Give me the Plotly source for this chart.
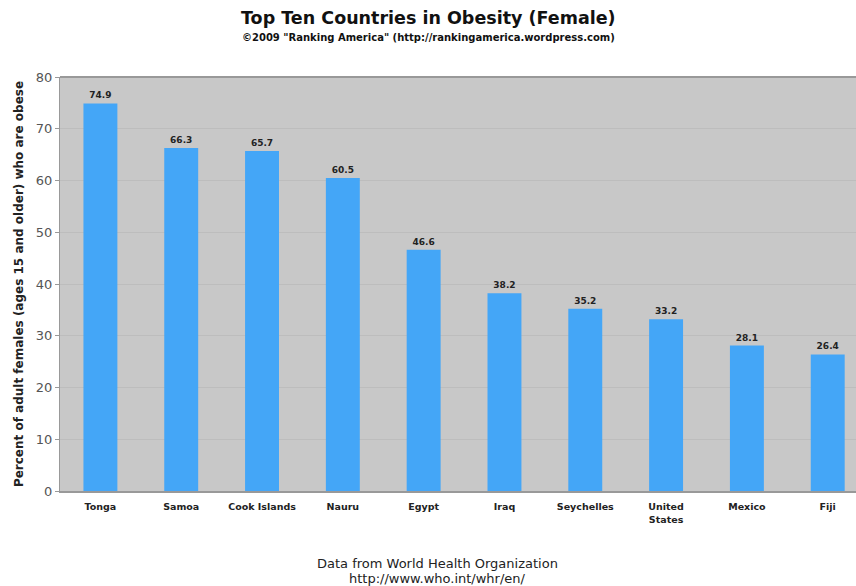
import plotly.graph_objects as go

countries = ["Tonga", "Samoa", "Cook Islands", "Nauru", "Egypt", "Iraq",
             "Seychelles", "United<br>States", "Mexico", "Fiji"]
values = [74.9, 66.3, 65.7, 60.5, 46.6, 38.2, 35.2, 33.2, 28.1, 26.4]
labels = ["74.9", "66.3", "65.7", "60.5", "46.6", "38.2", "35.2", "33.2", "28.1", "26.4"]
y_ticks = [0, 10, 20, 30, 40, 50, 60, 70, 80]

fig = go.Figure()
fig.add_trace(go.Bar(
    x=list(range(len(countries))), y=values,
    marker=dict(color="#44a6f7", line=dict(width=0)),
    width=0.42,
    text=["<b>" + t + "</b>" for t in labels], textposition="outside",
    textfont=dict(family="DejaVu Sans", size=9, color="#222222"),
    cliponaxis=False,
))

fig.update_layout(
    width=856, height=586,
    margin=dict(l=60, r=0, t=77, b=95),
    paper_bgcolor="white", plot_bgcolor="#c8c8c8",
    showlegend=False,
    xaxis=dict(
        range=[-0.5, 9.35],
        tickmode="array", tickvals=list(range(len(countries))),
        ticktext=["<b>" + c + "</b>" for c in countries],
        tickfont=dict(family="DejaVu Sans", size=9.5, color="#222222"),
        showgrid=False, showline=True, linecolor="#999999", linewidth=2,
        ticks="", ticklabelstandoff=6,
    ),
    yaxis=dict(
        range=[0, 80], tickvals=y_ticks,
        tickfont=dict(family="Verdana, DejaVu Sans", size=13, color="#555555"),
        showgrid=True, gridcolor="#bdbdbd", gridwidth=1,
        showline=True, linecolor="#999999", linewidth=1,
        ticks="outside", ticklen=4, tickcolor="#999999",
        zeroline=False,
        title=dict(text="<b>Percent of adult females (ages 15 and older) who are obese</b>",
                   font=dict(family="DejaVu Sans", size=12, color="#222222"), standoff=9),
    ),
)

# top border of plot area
fig.add_shape(type="line", xref="paper", yref="paper", x0=0, x1=1, y0=1, y1=1,
              line=dict(color="#999999", width=2))

cx_title = (428 - 60) / 796
cx_foot = (437 - 60) / 796
fig.add_annotation(text="<b>Top Ten Countries in Obesity (Female)</b>",
                   xref="paper", yref="paper", x=cx_title, y=1, xanchor="center", yanchor="middle",
                   yshift=59, showarrow=False,
                   font=dict(family="DejaVu Sans", size=17.5, color="#111111"))
fig.add_annotation(text="<b>©2009 \"Ranking America\" (http://rankingamerica.wordpress.com)</b>",
                   xref="paper", yref="paper", x=cx_title, y=1, xanchor="center", yanchor="middle",
                   yshift=40, showarrow=False,
                   font=dict(family="DejaVu Sans", size=10, color="#111111"))
fig.add_annotation(text="Data from World Health Organization",
                   xref="paper", yref="paper", x=cx_foot, y=0, xanchor="center", yanchor="middle",
                   yshift=-72, showarrow=False,
                   font=dict(family="DejaVu Sans", size=13, color="#222222"))
fig.add_annotation(text="http://www.who.int/whr/en/",
                   xref="paper", yref="paper", x=cx_foot, y=0, xanchor="center", yanchor="middle",
                   yshift=-87, showarrow=False,
                   font=dict(family="DejaVu Sans", size=13, color="#222222"))

fig.write_html("out.html")
